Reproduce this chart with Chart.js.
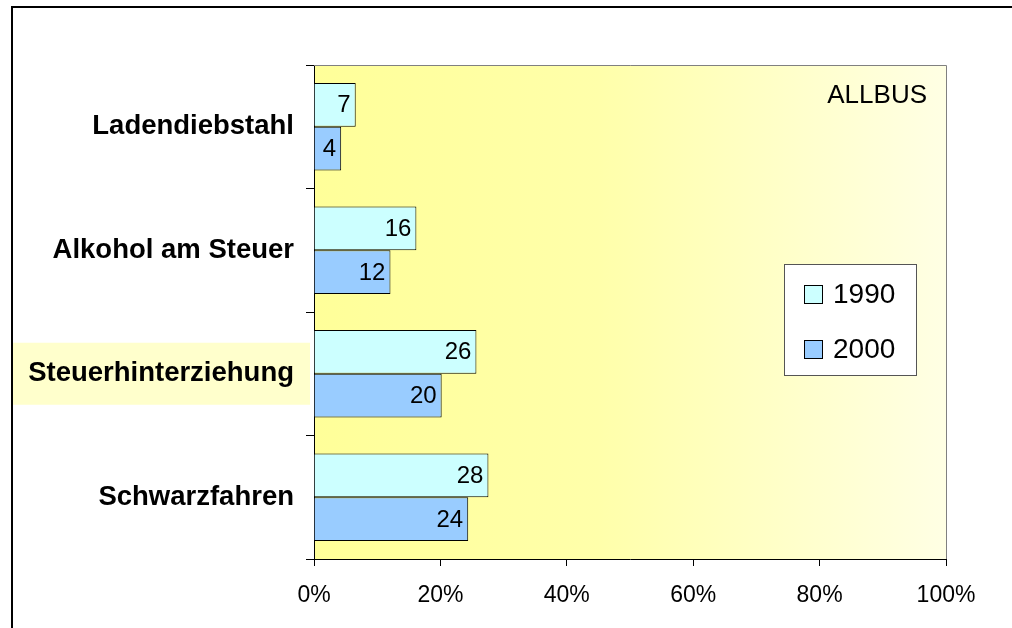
<!DOCTYPE html>
<html>
<head>
<meta charset="utf-8">
<script src="https://cdn.jsdelivr.net/npm/chart.js@4"></script>
<style>
  html, body { margin: 0; padding: 0; background: #fff; }
  #wrap { width: 1012px; height: 628px; position: relative; }
</style>
</head>
<body>
<div id="wrap"><canvas id="chart" width="1012" height="628"></canvas></div>
<script>
// Daten (ALLBUS, Anteile in %)
const kategorien = ['Ladendiebstahl', 'Alkohol am Steuer', 'Steuerhinterziehung', 'Schwarzfahren'];
const werte1990 = [6.6, 16.2, 25.7, 27.6];
const werte2000 = [4.3, 12.1, 20.2, 24.4];
const xTicks = [0, 20, 40, 60, 80, 100];
const quelle = 'ALLBUS';
const hervorgehoben = 'Steuerhinterziehung';

// Hintergrund der Zeichenfläche (Verlauf gelb -> weiß) und Markierung
const hintergrundPlugin = {
  id: 'hintergrund',
  beforeDraw(chart) {
    const { ctx, chartArea: a } = chart;
    ctx.save();
    ctx.fillStyle = '#fff';
    ctx.fillRect(0, 0, chart.width, chart.height);
    const g = ctx.createLinearGradient(a.left, 0, a.right, 0);
    g.addColorStop(0, '#FFFF99');
    g.addColorStop(0.45, '#FFFFAA');
    g.addColorStop(1, '#FFFFE4');
    ctx.fillStyle = g;
    ctx.fillRect(a.left, a.top, a.right - a.left, a.bottom - a.top);

    // gelbe Markierung hinter dem Kategorie-Label
    const y = chart.scales.y.getPixelForValue(kategorien.indexOf(hervorgehoben));
    ctx.fillStyle = '#FFFFCC';
    ctx.fillRect(13, y - 31, a.left - 17, 62);
    ctx.restore();
  },
  afterDraw(chart) {
    const { ctx, chartArea: a } = chart;
    ctx.save();
    // Rahmen oben/rechts
    ctx.strokeStyle = '#808080';
    ctx.lineWidth = 1;
    ctx.beginPath();
    ctx.moveTo(a.left, a.top + 0.5);
    ctx.lineTo(a.right + 0.5, a.top + 0.5);
    ctx.lineTo(a.right + 0.5, a.bottom);
    ctx.stroke();

    // äußerer Rahmen (nur links und oben sichtbar)
    ctx.strokeStyle = '#000';
    ctx.lineWidth = 2;
    ctx.beginPath();
    ctx.moveTo(12, chart.height);
    ctx.lineTo(12, 7);
    ctx.lineTo(chart.width, 7);
    ctx.stroke();

    // Quelle
    ctx.fillStyle = '#000';
    ctx.font = '26px "Liberation Sans", Arial, sans-serif';
    ctx.textAlign = 'right';
    ctx.textBaseline = 'middle';
    ctx.fillText(quelle, 927, 96);

    // Legende
    const lx = 784, ly = 264, lw = 132, lh = 111;
    ctx.fillStyle = '#fff';
    ctx.fillRect(lx, ly, lw, lh);
    ctx.strokeStyle = '#555';
    ctx.lineWidth = 1;
    ctx.strokeRect(lx + 0.5, ly + 0.5, lw, lh);
    ctx.font = '28px "Liberation Sans", Arial, sans-serif';
    ctx.textAlign = 'left';
    chart.data.datasets.forEach((ds, i) => {
      const cy = ly + 30 + i * 55;
      ctx.fillStyle = ds.backgroundColor;
      ctx.fillRect(804, cy - 9, 18, 18);
      ctx.strokeStyle = '#000';
      ctx.strokeRect(804.5, cy - 8.5, 18, 18);
      ctx.fillStyle = '#000';
      ctx.fillText(ds.label, 833, cy + 1);
    });
    ctx.restore();
  }
};

// Werte an den Balkenenden
const wertePlugin = {
  id: 'werte',
  afterDatasetsDraw(chart) {
    const { ctx } = chart;
    ctx.save();
    ctx.fillStyle = '#000';
    ctx.font = '24px "Liberation Sans", Arial, sans-serif';
    ctx.textAlign = 'right';
    ctx.textBaseline = 'middle';
    chart.data.datasets.forEach((ds, i) => {
      chart.getDatasetMeta(i).data.forEach((bar, j) => {
        ctx.fillText(Math.round(ds.data[j]), bar.x - 5, bar.y + 1);
      });
    });
    ctx.restore();
  }
};

new Chart(document.getElementById('chart').getContext('2d'), {
  type: 'bar',
  data: {
    labels: kategorien,
    datasets: [
      { label: '1990', data: werte1990, backgroundColor: '#CCFFFF', borderColor: '#000', borderWidth: 1 },
      { label: '2000', data: werte2000, backgroundColor: '#99CCFF', borderColor: '#000', borderWidth: 1 }
    ]
  },
  options: {
    indexAxis: 'y',
    responsive: false,
    animation: false,
    layout: { padding: { top: 65, right: 66, left: 0, bottom: 0 } },
    datasets: { bar: { categoryPercentage: 0.71, barPercentage: 1 } },
    plugins: { legend: { display: false }, tooltip: { enabled: false } },
    scales: {
      x: {
        min: 0,
        max: 100,
        afterBuildTicks(scale) { scale.ticks = xTicks.map(v => ({ value: v })); },
        afterFit(scale) { scale.height = 69; },
        ticks: {
          callback: v => v + '%',
          color: '#000',
          font: { family: '"Liberation Sans", Arial, sans-serif', size: 23 },
          padding: 16,
          maxRotation: 0
        },
        grid: { drawOnChartArea: false, drawTicks: true, tickLength: 7, color: '#000' },
        border: { color: '#000' }
      },
      y: {
        afterFit(scale) { scale.width = 314; },
        ticks: {
          color: '#000',
          font: { family: '"Liberation Sans", Arial, sans-serif', size: 27.5, weight: 'bold' },
          padding: 12
        },
        grid: { offset: true, drawOnChartArea: false, drawTicks: true, tickLength: 8, color: '#000' },
        border: { color: '#000' }
      }
    }
  },
  plugins: [hintergrundPlugin, wertePlugin]
});
</script>
</body>
</html>
